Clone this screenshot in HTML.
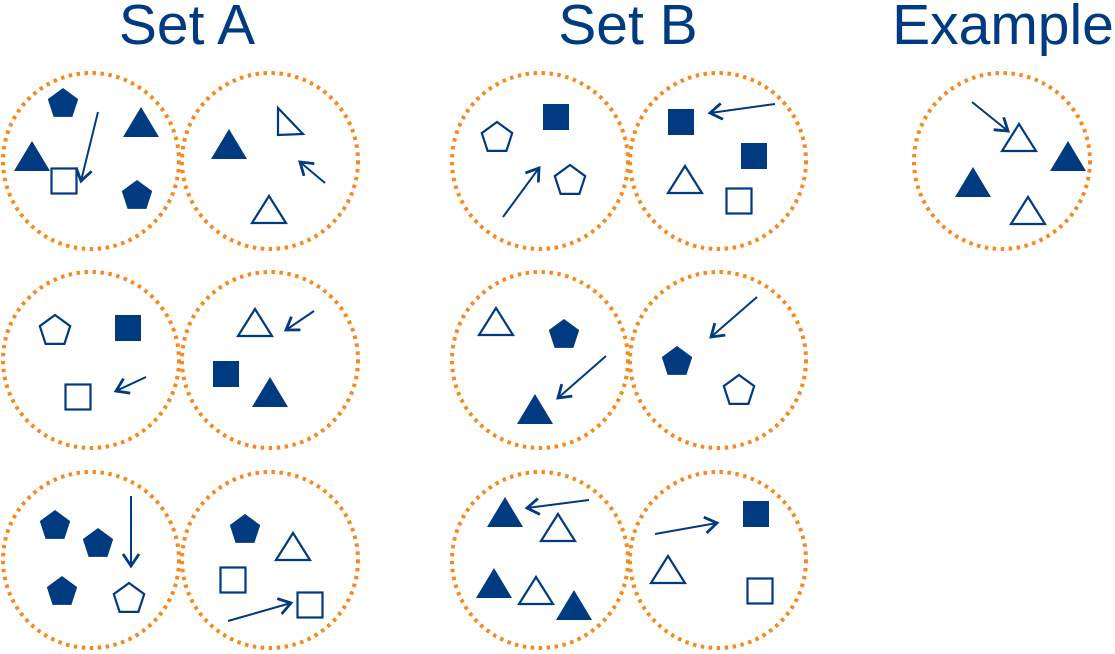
<!DOCTYPE html>
<html><head><meta charset="utf-8"><style>
html,body{margin:0;padding:0;background:#fff;width:1115px;height:654px;overflow:hidden}
svg{display:block}
</style></head><body>
<svg width="1115" height="654" viewBox="0 0 1115 654" xmlns="http://www.w3.org/2000/svg">
<defs>
<polygon id="tf" points="0,-16 18,14 -18,14" fill="#003a80"/>
<polygon id="to" points="0,-14 17,13 -17,13" fill="#fff" stroke="#003a80" stroke-width="2.2"/>
<polygon id="pf" points="0,-16 15.2,-4.9 9.4,12.9 -9.4,12.9 -15.2,-4.9" fill="#003a80"/>
<polygon id="po" points="0,-16 15.2,-4.9 9.4,12.9 -9.4,12.9 -15.2,-4.9" fill="#fff" stroke="#003a80" stroke-width="2.2"/>
<rect id="sf" x="-13" y="-13" width="26" height="26" fill="#003a80"/>
<rect id="so" x="-12.5" y="-12.5" width="25" height="25" fill="#fff" stroke="#003a80" stroke-width="2.2"/>
<marker id="ah" markerWidth="20" markerHeight="20" refX="15" refY="9" orient="auto" markerUnits="userSpaceOnUse">
<path d="M3,1 L15,9 L3,17" fill="none" stroke="#003a80" stroke-width="2.8"/>
</marker>
</defs>
<g font-family="Liberation Sans, sans-serif" font-size="57" fill="#003a80" text-anchor="middle">
<text x="187" y="44">Set A</text>
<text x="628" y="44">Set B</text>
<text x="1003" y="44">Example</text>
</g>
<g fill="none" stroke="#f58a1f" stroke-width="4" stroke-dasharray="3.5 4.5">
<circle cx="91" cy="161" r="88"/><circle cx="270" cy="161" r="88"/>
<circle cx="91" cy="360" r="88"/><circle cx="270" cy="360" r="88"/>
<circle cx="91" cy="560" r="88"/><circle cx="270" cy="560" r="88"/>
<circle cx="540" cy="161" r="88"/><circle cx="718" cy="161" r="88"/>
<circle cx="540" cy="360" r="88"/><circle cx="718" cy="360" r="88"/>
<circle cx="540" cy="560" r="88"/><circle cx="718" cy="560" r="88"/>
<circle cx="1002" cy="161" r="88"/>
</g>
<g stroke="#003a80" stroke-width="2" marker-end="url(#ah)">
<line x1="98" y1="112" x2="81" y2="181"/>
<line x1="325" y1="183" x2="300" y2="162"/>
<line x1="146" y1="377" x2="116" y2="391"/>
<line x1="314" y1="311" x2="286" y2="330"/>
<line x1="131" y1="496" x2="131" y2="566"/>
<line x1="228" y1="621" x2="291" y2="603"/>
<line x1="503" y1="217" x2="539" y2="168"/>
<line x1="775" y1="104" x2="710" y2="113"/>
<line x1="606" y1="356" x2="558" y2="398"/>
<line x1="757" y1="297" x2="711" y2="337"/>
<line x1="589" y1="500" x2="527" y2="508"/>
<line x1="655" y1="534" x2="717" y2="523"/>
<line x1="972" y1="102" x2="1008" y2="131"/>
</g>
<use href="#pf" x="63" y="104"/><use href="#tf" x="141" y="123"/><use href="#tf" x="32" y="157"/>
<use href="#so" x="64" y="181"/><use href="#pf" x="137" y="196"/>
<use href="#tf" x="229" y="145"/>
<polygon points="278,108 278,135 303,134" fill="#fff" stroke="#003a80" stroke-width="2.2"/>
<use href="#to" x="269" y="210"/>
<use href="#po" x="55" y="331"/><use href="#sf" x="128" y="328"/><use href="#so" x="78" y="397"/>
<use href="#to" x="255" y="323"/><use href="#sf" x="226" y="374"/><use href="#tf" x="270" y="393"/>
<use href="#pf" x="55" y="526"/><use href="#pf" x="98" y="544"/><use href="#pf" x="62" y="592"/><use href="#po" x="129" y="599"/>
<use href="#pf" x="245" y="530"/><use href="#to" x="293" y="547"/><use href="#so" x="233" y="580"/><use href="#so" x="310" y="605"/>
<use href="#po" x="497" y="138"/><use href="#sf" x="556" y="117"/><use href="#po" x="570" y="181"/>
<use href="#sf" x="681" y="122"/><use href="#sf" x="754" y="156"/><use href="#to" x="685" y="180"/><use href="#so" x="739" y="201"/>
<use href="#to" x="496" y="322"/><use href="#pf" x="564" y="335"/><use href="#tf" x="535" y="410"/>
<use href="#pf" x="677" y="362"/><use href="#po" x="739" y="391"/>
<use href="#tf" x="505" y="513"/><use href="#to" x="558" y="528"/><use href="#tf" x="494" y="584"/><use href="#to" x="536" y="591"/><use href="#tf" x="574" y="606"/>
<use href="#sf" x="756" y="514"/><use href="#to" x="668" y="570"/><use href="#so" x="760" y="591"/>
<use href="#to" x="1019" y="138"/><use href="#tf" x="1068" y="157"/><use href="#tf" x="973" y="183"/><use href="#to" x="1028" y="211"/>
</svg>
</body></html>
